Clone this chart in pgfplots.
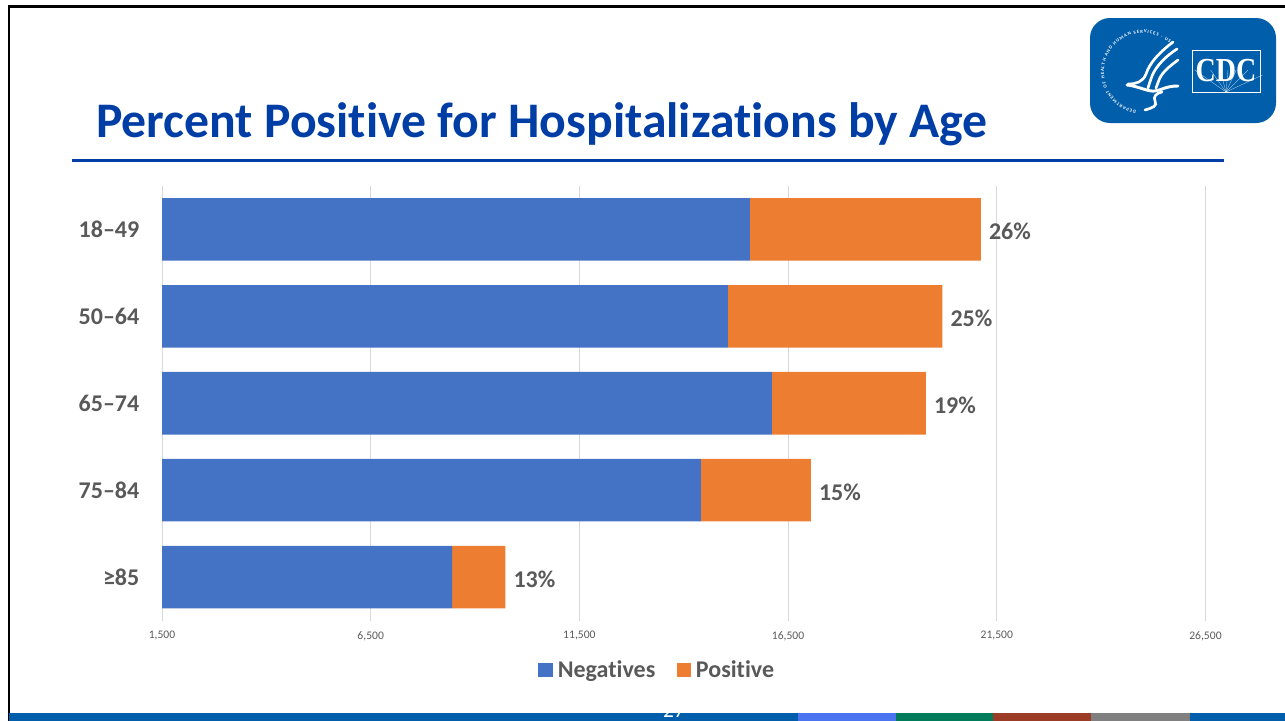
\documentclass[border=0pt]{standalone}
\usepackage{pgfplots}
\pgfplotsset{compat=1.18}
\usepackage{pgfplotstable}
\usepackage{fontspec}
\setmainfont[Ligatures=NoCommon]{Carlito}
\newfontfamily\logofont{Liberation Serif}
\usetikzlibrary{decorations.text}
\definecolor{negblue}{HTML}{4472C4}
\definecolor{posorange}{HTML}{ED7D31}
\definecolor{titleblue}{HTML}{003DA5}
\definecolor{cdcblue}{HTML}{005EAA}
\definecolor{labgray}{HTML}{595959}
\definecolor{gridgray}{HTML}{D9D9D9}
\definecolor{barB}{HTML}{4A74F0}
\definecolor{barC}{HTML}{007C5A}
\definecolor{barD}{HTML}{9C3B26}
\definecolor{barE}{HTML}{808080}
% end is a sliver on top of the stack that only carries the percent label
\pgfplotstableread{
y neg pos end lab
1 15587 5534 1 26\%
2 15060 5139 1 25\%
3 16114 3690 1 19\%
4 14413 2635 1 15\%
5 8448 1281 1 13\%
}\hospdata
\begin{document}
\begin{tikzpicture}
% page furniture, in reference pixels with the origin top left
\begin{scope}[x=0.75pt,y=-0.75pt]
\path[use as bounding box] (0,0) rectangle (1285,721);
\fill[black] (8,5) rectangle (1285,7.5);
\fill[black] (8,5) rectangle (10,721);
\fill[cdcblue] (9,713) rectangle (798,721);
\fill[barB] (798,713) rectangle (896,721);
\fill[barC] (896,713) rectangle (993,721);
\fill[barD] (993,713) rectangle (1091,721);
\fill[barE] (1091,713) rectangle (1190,721);
\fill[cdcblue] (1190,713) rectangle (1285,721);
\node[text=white,font=\fontsize{16pt}{16pt}\selectfont,anchor=base] at (674,717) {27};
% title and rule
\node[text=titleblue,font=\fontsize{37.3pt}{38pt}\selectfont\bfseries,anchor=base west,inner sep=0pt] at (96,137) {Percent Positive for Hospitalizations by Age};
\fill[titleblue] (72,159.3) rectangle (1224,161.8);
% logo
\fill[cdcblue,rounded corners=15pt] (1090,18) rectangle (1276,123);
\draw[white,line width=0.6pt] (1192,50) rectangle (1260,92);
\foreach \a in {25,45,65,85,105,125,145}
  \draw[white,line width=0.25pt,opacity=0.7] (1226,92) -- ++({-\a}:{min(40,22/max(0.4,sin(\a)))});
\node[text=white,font=\logofont\fontsize{21pt}{21pt}\selectfont\bfseries,yscale=1.2,inner sep=0pt] at (1226,71) {CDC};
\path[decorate,decoration={text along path,text align={fit to path},
  text={|\fontsize{3.5pt}{4pt}\selectfont\bfseries\color{white}|DEPARTMENT OF HEALTH AND HUMAN SERVICES - USA}}]
  (1143,72) ++(100:39) arc[start angle=100,end angle=318,radius=39];
\draw[white,line width=2pt,line cap=round] (1173,42) .. controls (1160,52) and (1150,62) .. (1146,74) .. controls (1143,82) and (1136,84) .. (1128,84);
\draw[white,line width=2pt,line cap=round] (1177,49) .. controls (1166,56) and (1156,66) .. (1152,76) .. controls (1150,82) and (1149,84) .. (1148,88);
\draw[white,line width=2pt,line cap=round] (1178,60) .. controls (1170,66) and (1162,72) .. (1159,80) .. controls (1158,83) and (1157,85) .. (1156,88);
\draw[white,line width=2.2pt,line cap=round] (1127,85) .. controls (1138,86) and (1148,92) .. (1155,91) .. controls (1162,90) and (1166,86) .. (1178,86);
\draw[white,line width=2pt,line cap=round] (1145,110) .. controls (1152,108) and (1158,106) .. (1155,101) .. controls (1153,97) and (1156,93) .. (1162,92);
\end{scope}
\begin{axis}[
    at={(121.5pt,-465.375pt)},
    anchor=south west,
    scale only axis,
    width=782.6pt,
    height=325.9pt,
    xbar stacked,
    bar width=46.9pt,
    xmin=1500, xmax=26500,
    ymin=0.5, ymax=5.5,
    y dir=reverse,
    xtick={1500,6500,11500,16500,21500,26500},
    ytick={1,2,3,4,5},
    yticklabels={18--49,50--64,65--74,75--84,≥85},
    scaled x ticks=false,
    /pgf/number format/assume math mode=true,
    /pgf/number format/fixed,
    /pgf/number format/1000 sep={,},
    xmajorgrids,
    major grid style={gridgray,line width=0.6pt},
    axis line style={draw=none},
    major tick length=0pt,
    clip=false,
    xticklabel style={font=\fontsize{8.7pt}{9pt}\selectfont,text=labgray,yshift=-4.5pt},
    yticklabel style={font=\fontsize{18pt}{18pt}\selectfont\bfseries,text=labgray,xshift=-13.5pt},
    legend style={at={(0.475,-0.114)},anchor=center,draw=none,fill=none,
      legend columns=2,font=\fontsize{18pt}{18pt}\selectfont\bfseries,text=labgray,
      /tikz/every even column/.style={column sep=14pt}},
    legend image code/.code={\path[#1] (0pt,-5.25pt) rectangle (11pt,5.25pt); \path (12.5pt,0pt);},
]
\addplot+[fill=negblue,draw=none] table[x=neg,y=y] {\hospdata};
\addlegendentry{Negatives}
\addplot+[fill=posorange,draw=none] table[x=pos,y=y] {\hospdata};
\addlegendentry{Positive}
\addplot+[forget plot,draw=none,fill=none,
    nodes near coords,
    point meta=explicit symbolic,
    every node near coord/.append style={anchor=west,xshift=2.5pt,yshift=-1.5pt,
      font=\fontsize{18pt}{18pt}\selectfont\bfseries,text=labgray},
  ] table[x=end,y=y,meta=lab] {\hospdata};
\end{axis}
\end{tikzpicture}
\end{document}
